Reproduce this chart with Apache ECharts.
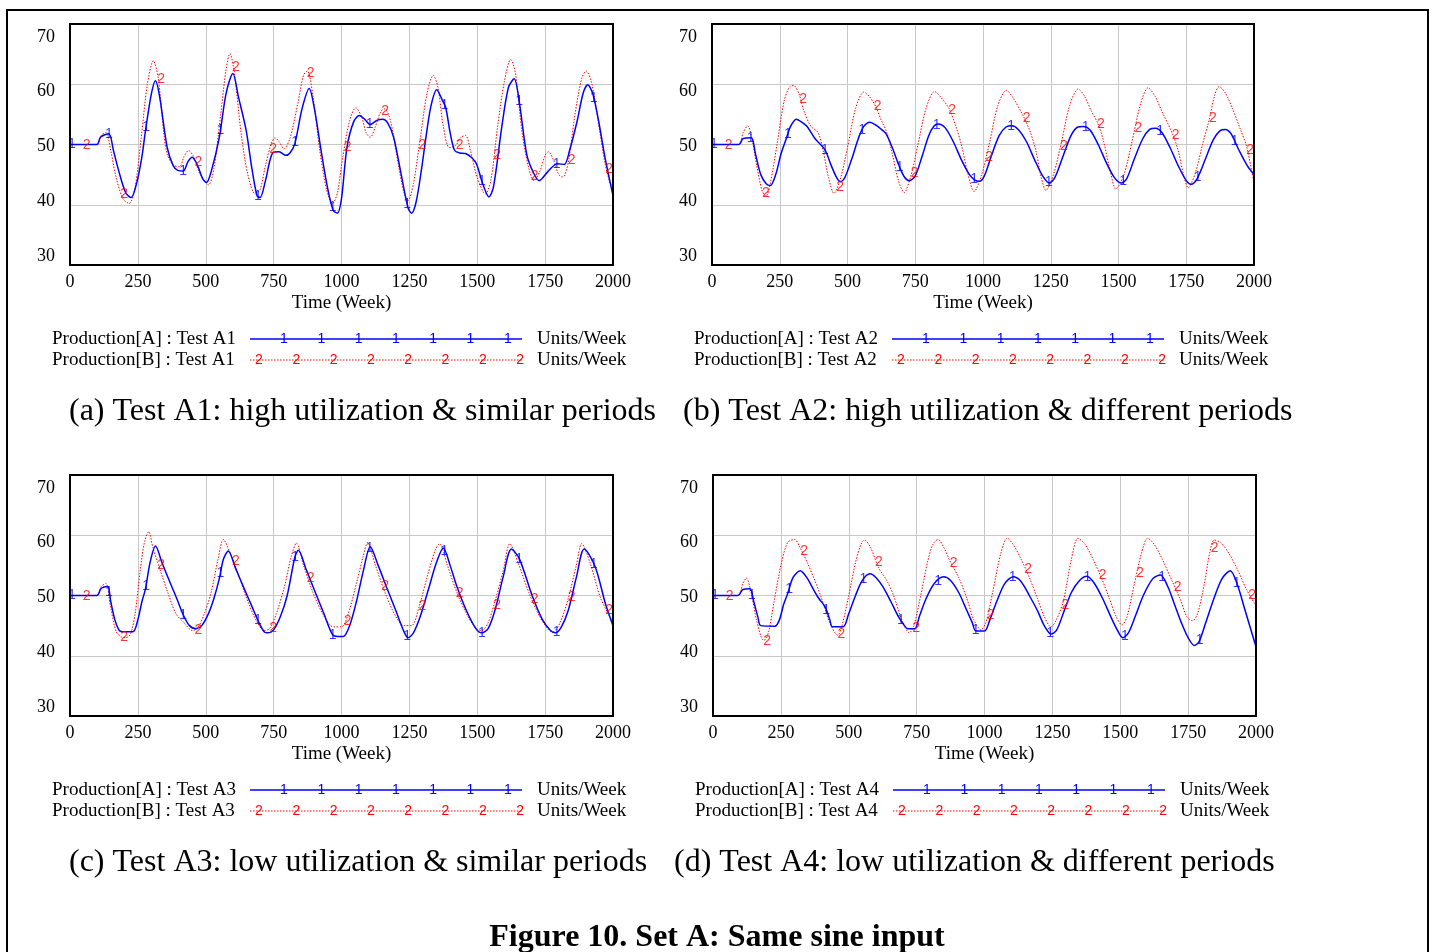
<!DOCTYPE html>
<html>
<head>
<meta charset="utf-8">
<script src="https://cdn.jsdelivr.net/npm/echarts@6/dist/echarts.min.js"></script>
<style>
html,body{margin:0;padding:0;background:#fff;}
#chart{width:1435px;height:952px;}
</style>
</head>
<body>
<div id="chart"></div>
<script>
// ---------------- DATA ----------------
const xTicks = [0, 250, 500, 750, 1000, 1250, 1500, 1750, 2000];
const yTicks = [30, 40, 50, 60, 70];
const testNames = ['A1', 'A2', 'A3', 'A4'];
const captions = [
  '(a) Test A1: high utilization & similar periods',
  '(b) Test A2: high utilization & different periods',
  '(c) Test A3: low utilization & similar periods',
  '(d) Test A4: low utilization & different periods'
];
const figTitle = 'Figure 10. Set A: Same sine input';
const unitLabel = 'Units/Week';
const xName = 'Time (Week)';

// Production[A] and Production[B] for each test: [week, units/week]
const A1_A = [[0,50],[99,50],[112,51.2],[143,51.8],[160,49],[179,45.7],[205,42],[225,41.2],[245,43.5],[265,48],[278,52.3],[300,58.5],[315,60.6],[330,58],[358,49.5],[380,46.5],[397,45.7],[417,45.6],[435,47.2],[450,47.9],[470,46.5],[490,44.2],[503,43.7],[520,45.5],[550,51.2],[575,58.5],[600,61.8],[620,58],[649,52.3],[670,46],[689,41.5],[700,41.2],[720,44],[748,48.7],[770,48.8],[795,48.2],[810,48.6],[828,50.1],[855,56],[881,59.3],[900,56],[927,48.4],[950,42.5],[970,39],[985,38.6],[1000,41],[1020,49.5],[1045,53.8],[1066,54.8],[1085,54.2],[1106,53.3],[1130,54],[1152,54.2],[1170,53.6],[1192,51.2],[1220,45],[1245,39.5],[1258,38.6],[1275,40.5],[1295,46],[1311,51.2],[1330,56.5],[1351,59.1],[1370,57.5],[1384,56.1],[1400,52],[1417,49],[1437,48.6],[1457,48.5],[1480,47.8],[1497,46.8],[1520,43.5],[1543,41.3],[1560,43],[1590,52.8],[1615,59.5],[1636,60.9],[1655,57],[1682,48.4],[1705,45.5],[1728,44],[1760,45.5],[1795,46.8],[1821,46.7],[1840,49],[1868,53.9],[1890,58.5],[1907,59.9],[1925,58.5],[1947,53.9],[1970,48],[2000,41.5]];
const A1_B = [[0,50],[99,50],[115,51.5],[132,52],[150,49],[170,44.5],[195,41],[218,40.2],[240,43],[262,51],[285,60],[307,63.9],[325,61],[345,52],[358,48.4],[380,46.6],[404,46.3],[420,48],[437,49],[455,48],[480,45],[510,43.3],[530,46],[555,55],[575,62.5],[589,65.1],[605,62],[630,52],[655,45],[682,41.8],[700,42.5],[720,46.5],[740,50],[755,51.1],[770,50.5],[788,49.3],[810,51],[840,57],[860,61.5],[874,62.2],[895,58],[920,49],[945,42.5],[967,40.2],[985,42],[1005,48],[1030,54],[1053,56.1],[1075,54.5],[1090,52],[1106,51.2],[1125,53],[1145,55.5],[1159,55.9],[1180,54],[1210,46.5],[1230,42],[1245,40.7],[1265,43.5],[1290,51],[1315,58.5],[1338,61.5],[1355,59.5],[1375,53],[1397,49.5],[1420,49.8],[1440,51.2],[1457,51.5],[1475,49],[1500,44.5],[1530,41.8],[1550,44],[1575,53],[1600,60.5],[1623,64.1],[1640,62],[1665,52],[1690,46],[1709,44],[1730,45.5],[1750,48.2],[1762,48.8],[1780,47.5],[1800,45],[1815,44.6],[1835,47],[1860,55],[1885,61],[1901,62.2],[1920,60.5],[1945,54],[1970,47],[1990,43.5],[2000,43]];
const A2_A = [[0,50],[99,50],[115,51],[145,51.1],[160,48.5],[180,45],[200,43.5],[215,43.2],[235,45],[255,48.5],[272,50.7],[290,53],[311,54.2],[335,53.6],[351,53],[380,51],[417,49.1],[440,46.5],[460,44.5],[474,43.8],[490,44.5],[515,47.5],[540,51],[560,53],[583,53.7],[605,53.2],[625,52.5],[642,51.8],[665,49.5],[690,46.5],[710,44.6],[728,44],[750,44.8],[775,48],[800,51.5],[820,53.1],[834,53.4],[860,52.8],[890,50.5],[920,47.5],[950,45],[970,44.1],[987,43.9],[1005,44.8],[1030,48],[1060,51.5],[1085,52.9],[1106,53.1],[1130,52.5],[1160,50.5],[1190,47.5],[1220,44.8],[1245,43.6],[1265,44.5],[1295,48],[1325,51.5],[1350,52.9],[1371,53],[1395,52.4],[1425,50],[1455,47],[1485,44.5],[1510,43.6],[1530,44.3],[1560,47.8],[1590,51],[1615,52.5],[1636,52.7],[1660,52],[1690,49.5],[1720,46.5],[1750,44],[1768,43.4],[1790,44.3],[1820,47.5],[1850,50.8],[1875,52.3],[1894,52.5],[1915,51.8],[1945,49],[1975,46.5],[2000,45]];
const A2_B = [[0,50],[99,50],[115,52],[132,53.1],[145,51.5],[165,46.5],[185,42.3],[199,41.4],[215,43.5],[240,50],[265,57],[285,59.5],[301,59.8],[320,58.5],[340,55.5],[365,53],[391,52],[410,49],[430,44.5],[450,41.9],[475,44.5],[500,49.5],[530,56],[560,58.7],[580,58],[603,56.4],[625,54],[645,52],[665,48.5],[688,44],[709,42],[735,45],[760,50],[790,56],[821,58.8],[845,57.8],[874,56],[900,53],[920,50],[945,45],[967,42.2],[995,45],[1025,50.5],[1055,56.5],[1086,59],[1110,57.8],[1150,54.6],[1175,52],[1195,49],[1215,44.5],[1232,42.4],[1260,45],[1290,50.5],[1320,56.5],[1351,59.2],[1375,58],[1400,55.5],[1424,53.5],[1445,50.5],[1470,45.5],[1490,42.6],[1520,45],[1550,50.5],[1580,56.5],[1609,59.4],[1635,58],[1660,55.5],[1700,51.7],[1720,49],[1740,45],[1757,42.8],[1785,45.5],[1810,50],[1834,54],[1855,58.2],[1871,59.6],[1895,58.5],[1920,56],[1950,52.5],[1973,49.6],[2000,43.6]];
const A3_A = [[0,50],[99,50],[115,51.2],[139,51.5],[150,49],[165,46],[180,44.3],[192,44],[232,44],[250,46],[265,49],[278,51.1],[295,55.5],[315,58.2],[340,55.3],[370,52],[395,49.3],[417,46.8],[440,45],[464,44.5],[485,45],[510,47],[530,49.5],[550,52.8],[565,56],[583,57.4],[610,54.5],[640,51.3],[670,48.2],[695,45.6],[715,44],[728,43.8],[750,44.3],[775,46.5],[800,50],[828,56.3],[841,57.5],[870,54.3],[900,50.9],[935,47],[967,43.5],[985,43.2],[1007,43.2],[1030,45],[1055,49],[1080,54],[1106,58.1],[1135,55],[1165,51.5],[1200,47.5],[1230,44],[1245,43],[1265,43.8],[1290,46.5],[1320,51],[1350,55.5],[1375,57.9],[1400,55],[1425,51.5],[1460,47.5],[1495,44.5],[1517,43.8],[1540,44.5],[1565,47.5],[1595,53],[1626,57.7],[1656,56],[1702,50],[1740,46],[1770,44.2],[1788,43.8],[1810,44.8],[1835,47.5],[1865,53],[1894,57.7],[1934,54.8],[1973,48.5],[2000,45]];
const A3_B = [[0,50],[99,50],[115,51.5],[132,52],[150,48],[170,44],[190,43.1],[205,43],[222,43.5],[240,47],[258,54],[275,59],[290,60.6],[305,58],[330,54.5],[360,50.5],[390,47],[420,45.5],[450,44.2],[470,44.6],[495,47],[520,50.5],[545,56],[565,59.3],[590,57],[620,53.5],[655,49],[690,45.5],[715,44.2],[735,44.5],[760,47],[790,51.5],[815,56.5],[834,58.7],[860,55],[895,50.5],[930,47],[960,45],[975,44.8],[1000,44.8],[1025,47],[1055,52],[1080,56.5],[1096,58.8],[1125,55],[1160,50.5],[1200,46.5],[1230,45],[1258,45],[1285,48],[1315,53],[1345,57.5],[1361,58.6],[1390,55],[1425,50.5],[1460,47],[1495,44.5],[1517,44.2],[1540,45.5],[1565,49],[1595,54],[1620,58.6],[1650,55.5],[1690,50.5],[1730,46.5],[1765,44.2],[1780,44],[1805,45.5],[1835,49.5],[1865,55],[1885,58.6],[1915,55.5],[1955,49.5],[2000,45.5]];
const A4_A = [[0,50],[92,50],[110,51],[136,51.1],[150,49],[165,46.5],[176,45],[228,44.9],[245,46],[260,48.5],[275,50.3],[295,53],[321,54.1],[345,53],[370,51],[390,49.5],[413,48.1],[430,46],[440,44.8],[479,44.8],[500,47],[525,50],[550,52.5],[578,53.6],[600,53],[625,51.5],[655,49],[684,46.4],[705,45],[717,44.5],[743,44.5],[760,46.5],[785,49.5],[815,52],[849,53.1],[875,52.5],[905,50.5],[935,47.5],[955,45.5],[968,44.1],[1000,44.1],[1020,46],[1045,49],[1075,52],[1106,53.1],[1135,52.3],[1165,50],[1195,47.5],[1220,45],[1245,43.6],[1265,44.2],[1290,47],[1320,50.5],[1350,52.5],[1377,53.2],[1405,52],[1435,49.5],[1465,46.5],[1490,44.2],[1509,43],[1530,43.8],[1555,46.5],[1585,50],[1620,52.8],[1648,53.4],[1675,51.5],[1700,48.5],[1725,45.5],[1750,43],[1773,41.7],[1790,42.3],[1815,45.5],[1845,49.5],[1875,52.8],[1905,54.1],[1930,52],[1960,47.5],[2000,41.5]];
const A4_B = [[0,50],[92,50],[110,52],[123,52.9],[140,50.5],[160,46],[180,42.8],[189,42.6],[205,44],[225,49],[250,55],[275,58.8],[301,59.3],[320,58],[347,55.5],[375,52.5],[400,49.5],[430,45.5],[459,43.4],[475,45],[500,50],[525,55.5],[545,58.5],[558,59.2],[580,58],[610,54.6],[640,52.5],[665,50],[695,46],[723,43.8],[740,45],[765,50],[790,55.5],[810,58.5],[829,59.3],[850,58],[875,55.5],[905,53],[935,49.5],[960,46],[987,44.3],[1005,45.5],[1030,50.5],[1060,57],[1084,59.5],[1105,58.5],[1135,56],[1165,53],[1195,49.5],[1220,46.5],[1245,44.8],[1265,46],[1290,49],[1320,56],[1344,59.5],[1370,58.5],[1400,56],[1430,53],[1460,49.5],[1485,46.5],[1506,45.1],[1525,46.5],[1550,51.5],[1578,57],[1601,59.5],[1625,58.5],[1655,56],[1690,52.5],[1720,49.5],[1745,46.5],[1766,45.8],[1785,47],[1810,52],[1830,57.2],[1846,59.2],[1870,58.8],[1900,57],[1935,54],[1965,51],[2000,48.3]];

// weeks at which the line identifiers "1" and "2" are printed
const markTimesA = [7,143,280,417,554,692,829,967,1104,1242,1379,1517,1654,1792,1929];
const markTimesB = [50,188,325,462,600,737,875,1012,1150,1287,1424,1562,1700,1837,1975];

const seriesA = [A1_A, A2_A, A3_A, A4_A];
const seriesB = [A1_B, A2_B, A3_B, A4_B];

// ---------------- LAYOUT ----------------
const layout = [
  {left:70,  top:24,  width:543, height:241, cap:69},
  {left:712, top:24,  width:542, height:241, cap:683},
  {left:70,  top:475, width:543, height:241, cap:69},
  {left:713, top:475, width:543, height:241, cap:674}
];
const SERIF = '"Liberation Serif", "Times New Roman", serif';
const SANS = '"Liberation Sans", Arial, sans-serif';
const BLUE = '#0000ff';
const RED = '#ff0000';

function interp(data, t) {
  for (let i = 1; i < data.length; i++) {
    if (t <= data[i][0]) {
      const [t0, v0] = data[i-1], [t1, v1] = data[i];
      return v0 + (v1 - v0) * (t - t0) / (t1 - t0);
    }
  }
  return data[data.length-1][1];
}

const grid = [], xAxis = [], yAxis = [], series = [], graphic = [];

layout.forEach((L, p) => {
  const gi = grid.length;
  // visible plot grid
  grid.push({left:L.left, top:L.top, width:L.width, height:L.height, show:true,
    borderColor:'#000', borderWidth:2, backgroundColor:'transparent', z:5});
  xAxis.push({gridIndex:gi, type:'value', min:xTicks[0], max:xTicks[xTicks.length-1], interval:250,
    axisLine:{show:false}, axisTick:{show:false},
    splitLine:{show:true, lineStyle:{color:'#c8c8c8', width:1}},
    axisLabel:{show:true, color:'#000', fontFamily:SERIF, fontSize:18, margin:8, formatter:v => String(v)},
    name:xName, nameLocation:'middle', nameGap:29,
    nameTextStyle:{color:'#000', fontFamily:SERIF, fontSize:19}});
  yAxis.push({gridIndex:gi, type:'value', min:yTicks[0], max:yTicks[yTicks.length-1], interval:10,
    axisLine:{show:false}, axisTick:{show:false}, axisLabel:{show:false},
    splitLine:{show:true, lineStyle:{color:'#c8c8c8', width:1}}});
  // label-only grid (Vensim-style inset tick labels)
  const li = grid.length;
  grid.push({left:L.left, top:L.top+13, width:L.width, height:L.height-22, show:false});
  xAxis.push({gridIndex:li, type:'value', min:0, max:2000, show:false});
  yAxis.push({gridIndex:li, type:'value', min:yTicks[0], max:yTicks[yTicks.length-1], interval:10,
    axisLine:{show:false}, axisTick:{show:false}, splitLine:{show:false},
    axisLabel:{show:true, color:'#000', fontFamily:SERIF, fontSize:18, margin:15}});

  const dA = seriesA[p], dB = seriesB[p];
  series.push({type:'line', xAxisIndex:gi, yAxisIndex:gi, data:dA, showSymbol:false, smooth:0.3,
    lineStyle:{color:BLUE, width:1.5}, z:3, animation:false});
  series.push({type:'line', xAxisIndex:gi, yAxisIndex:gi, data:dB, showSymbol:false, smooth:0.3,
    lineStyle:{color:RED, width:1, type:[1.5,1.5]}, z:2, animation:false});
  series.push({type:'scatter', xAxisIndex:gi, yAxisIndex:gi, symbolSize:1, itemStyle:{color:'transparent'},
    data:markTimesA.map(t => [t, interp(dA, t)]), z:4, animation:false, silent:true,
    label:{show:true, position:'inside', formatter:'1', color:BLUE, fontFamily:SANS, fontSize:14}});
  series.push({type:'scatter', xAxisIndex:gi, yAxisIndex:gi, symbolSize:1, itemStyle:{color:'transparent'},
    data:markTimesB.map(t => [t, interp(dB, t)]), z:4, animation:false, silent:true,
    label:{show:true, position:'inside', formatter:'2', color:RED, fontFamily:SANS, fontSize:14, offset:[3,1]}});

  // legend block
  const lx = L.left - 18;            // legend text left
  const ly1 = L.top + 315, ly2 = L.top + 336;
  const lineX0 = L.left + 180, lineX1 = L.left + 452;
  [['Production[A] : Test ' + testNames[p], ly1, BLUE, '1', 7],
   ['Production[B] : Test ' + testNames[p], ly2, RED, '2', 8]].forEach(([txt, y, col, mk, n]) => {
    graphic.push({type:'text', style:{text:txt, x:lx, y:y, font:'19px ' + SERIF, fill:'#000',
      textAlign:'left', textVerticalAlign:'middle', align:'left', verticalAlign:'middle'}});
    graphic.push({type:'line', shape:{x1:lineX0, y1:y, x2:lineX1, y2:y},
      style:{stroke:col, lineWidth:col === BLUE ? 1.5 : 1, lineDash:col === BLUE ? null : [1.5,1.5]}});
    for (let k = 0; k < n; k++) {
      const mx = (col === BLUE ? lineX0 + 34 : lineX0 + 9) + k * 37.3;
      graphic.push({type:'text', style:{text:mk, x:mx, y:y, font:'14px ' + SANS, fill:col,
        textAlign:'center', textVerticalAlign:'middle', align:'center', verticalAlign:'middle'}});
    }
    graphic.push({type:'text', style:{text:unitLabel, x:L.left + 467, y:y, font:'19px ' + SERIF, fill:'#000',
      textAlign:'left', textVerticalAlign:'middle', align:'left', verticalAlign:'middle'}});
  });
  // caption
  graphic.push({type:'text', style:{text:captions[p], x:L.cap, y:L.top + 388,
    font:'32px ' + SERIF, fill:'#000', textAlign:'left', textVerticalAlign:'middle', align:'left', verticalAlign:'middle'}});
});

graphic.push({type:'text', style:{text:figTitle, x:717, y:938, font:'bold 32px ' + SERIF, fill:'#000',
  textAlign:'center', textVerticalAlign:'middle', align:'center', verticalAlign:'middle'}});
graphic.push({type:'rect', shape:{x:7, y:10, width:1421, height:1000},
  style:{fill:'none', stroke:'#000', lineWidth:2}, z:-1});

const chart = echarts.init(document.getElementById('chart'), null, {renderer:'canvas'});
chart.setOption({
  backgroundColor:'#fff',
  animation:false,
  grid, xAxis, yAxis, series, graphic
});
</script>
</body>
</html>
